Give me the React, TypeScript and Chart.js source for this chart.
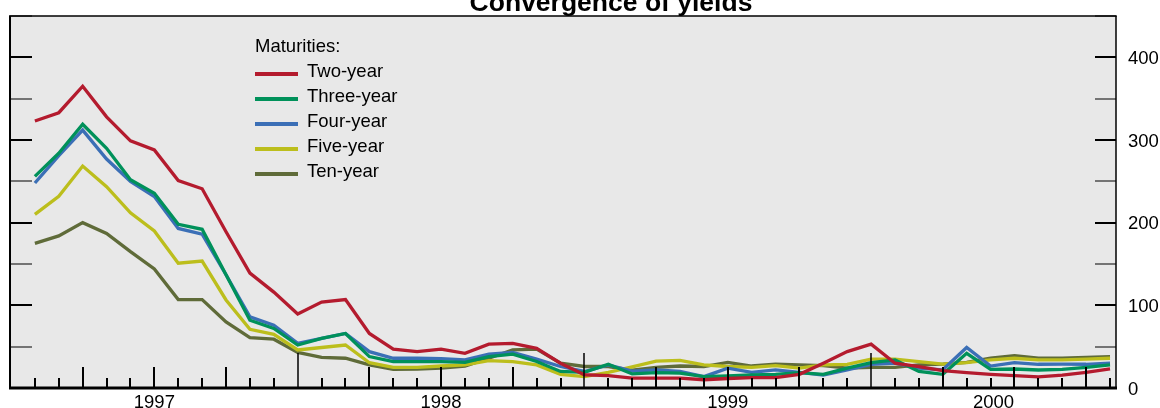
import React, { useEffect, useRef } from "react";
import { Chart, registerables } from "chart.js";

Chart.register(...registerables);

// Month index along the axis: 0 = start of 1997 (left edge), 1..46 = monthly observations
const monthIndex: number[] = [
  1, 2, 3, 4, 5, 6, 7, 8, 9, 10, 11, 12, 13, 14, 15, 16, 17, 18, 19, 20, 21, 22, 23,
  24, 25, 26, 27, 28, 29, 30, 31, 32, 33, 34, 35, 36, 37, 38, 39, 40, 41, 42, 43, 44,
  45, 46,
];

const twoYear: number[] = [
  323, 333, 365, 328, 299, 288, 251, 241, 189, 139, 116, 89.5, 104, 107, 66, 47,
  44, 47, 42, 53, 54, 48, 30, 16, 15, 12, 12, 12, 10, 11.5, 12.5, 12.5, 16.5, 30,
  44, 53, 30, 26, 21, 18.5, 16.5, 15, 13.5, 15.5, 19, 23,
];
const threeYear: number[] = [
  256, 284, 319, 290, 252, 235.5, 198, 192, 137, 82, 72, 52, 60, 66, 38, 32,
  32, 32, 31, 38, 41, 32, 20, 19, 28.7, 17, 18.5, 18, 13.7, 14.5, 15.7, 16.5, 18.5,
  16.5, 24, 30.7, 34, 20, 16.5, 42, 22.5, 23, 21.8, 22.5, 25, 28,
];
const fourYear: number[] = [
  248, 281, 312, 277, 250, 231.5, 193, 186, 137, 86, 76, 54, 60, 66, 44, 36,
  36, 35.5, 34, 41, 43, 35, 26, 20, 28, 20.5, 22, 20, 13.7, 24, 19, 22, 19, 15.7,
  22, 28.7, 30, 24, 22, 49, 26.6, 30.7, 28.7, 29, 28.7, 30,
];
const fiveYear: number[] = [
  210, 232, 268.5, 243.5, 212, 190, 151, 153.6, 106.5, 71, 65, 46, 49, 52, 30.6, 25,
  25, 26.6, 28, 33, 32, 28, 16.5, 13.7, 19, 25.5, 32.5, 33.5, 28, 26, 25, 27, 24,
  28, 28.7, 35, 35, 32, 29, 30.6, 34, 36, 34, 34, 35, 36,
];
const tenYear: number[] = [
  175, 184, 200, 187, 165, 144, 107, 107, 80, 61, 59, 43, 37, 36, 28, 22.6,
  23, 24, 26.6, 36, 46, 47, 30, 26, 26, 21.5, 25, 26.6, 26, 31, 26.6, 28.7, 28, 27,
  24, 25, 25, 28, 29, 31, 36, 39, 36, 36, 37, 38,
];

const seriesNames: string[] = ["Two-year", "Three-year", "Four-year", "Five-year", "Ten-year"];
const seriesColors: string[] = ["#b41b2e", "#00915a", "#3b6fb6", "#bcbe1c", "#5f6b39"];

const yearLabels: string[] = ["1997", "1998", "1999", "2000"];
const yearStarts: number[] = [0, 12, 24, 36];
const yTickValues: number[] = [0, 100, 200, 300, 400];

const X_MIN = 0;
const X_MAX = 46.25;
const Y_MIN = 0;
const Y_MAX = 450;

const FONT = '"Liberation Sans", Arial, Helvetica, sans-serif';

const decoPlugin = {
  id: "deco",
  beforeDatasetsDraw(chart: any) {
    const { ctx, chartArea } = chart;
    const { left, top, right, bottom } = chartArea;
    ctx.save();
    ctx.fillStyle = "#e8e8e8";
    ctx.fillRect(left, top, right - left, bottom - top);
    ctx.restore();
  },
  afterDatasetsDraw(chart: any) {
    const { ctx, chartArea, scales } = chart;
    const { left, top, right, bottom } = chartArea;
    const xs = scales.x;
    const ys = scales.y;
    ctx.save();
    ctx.strokeStyle = "#000";
    ctx.fillStyle = "#000";
    ctx.lineCap = "butt";

    // borders
    ctx.lineWidth = 2;
    ctx.beginPath();
    ctx.moveTo(left - 1, top);
    ctx.lineTo(left - 1, bottom);
    ctx.stroke();
    ctx.lineWidth = 1.5;
    ctx.beginPath();
    ctx.moveTo(left - 2, top);
    ctx.lineTo(right + 0.75, top);
    ctx.stroke();
    ctx.beginPath();
    ctx.moveTo(right, top);
    ctx.lineTo(right, bottom);
    ctx.stroke();
    ctx.lineWidth = 3;
    ctx.beginPath();
    ctx.moveTo(left - 2, bottom);
    ctx.lineTo(right + 1, bottom);
    ctx.stroke();

    // y ticks (both sides, inward)
    for (let v = Y_MIN; v <= Y_MAX; v += 50) {
      const y = Math.round(ys.getPixelForValue(v));
      const major = v % 100 === 0;
      ctx.lineWidth = major ? 2.2 : 1.2;
      ctx.beginPath();
      ctx.moveTo(left - 1, y);
      ctx.lineTo(left + 21, y);
      ctx.moveTo(right, y);
      ctx.lineTo(right - 21, y);
      ctx.stroke();
    }

    // x ticks (monthly / quarterly / yearly), upward from axis
    for (let m = 1; m <= Math.floor(X_MAX); m++) {
      const x = Math.round(xs.getPixelForValue(m));
      let len = 10;
      let lw = 2;
      if (m % 12 === 0) {
        len = 35;
        lw = 1.5;
      } else if (m % 3 === 0) {
        len = 21;
        lw = 2;
      }
      ctx.lineWidth = lw;
      ctx.beginPath();
      ctx.moveTo(x, bottom);
      ctx.lineTo(x, bottom - len);
      ctx.stroke();
    }

    // year labels centred in visible year span
    ctx.font = `18.5px ${FONT}`;
    ctx.textAlign = "center";
    ctx.textBaseline = "alphabetic";
    yearLabels.forEach((lab, i) => {
      const s = Math.max(yearStarts[i], X_MIN);
      const e = Math.min(yearStarts[i] + 12, X_MAX);
      const c = (xs.getPixelForValue(s) + xs.getPixelForValue(e)) / 2;
      ctx.fillText(lab, c, bottom + 20);
    });

    // right y labels
    ctx.textAlign = "left";
    yTickValues.forEach((v) => {
      const y = ys.getPixelForValue(v);
      ctx.fillText(String(v), right + 12, y + 6.6);
    });

    // legend
    ctx.font = `18.5px ${FONT}`;
    ctx.textAlign = "left";
    ctx.fillText("Maturities:", 255, 52);
    seriesNames.forEach((name, i) => {
      const yb = 77 + i * 25;
      ctx.strokeStyle = seriesColors[i];
      ctx.lineWidth = 4;
      ctx.beginPath();
      ctx.moveTo(255, yb - 3);
      ctx.lineTo(298, yb - 3);
      ctx.stroke();
      ctx.fillStyle = "#000";
      ctx.fillText(name, 307, yb);
    });

    // title
    ctx.font = `bold 26.5px ${FONT}`;
    ctx.textAlign = "center";
    ctx.fillStyle = "#000";
    ctx.fillText("Convergence of yields", 611, 11);

    ctx.restore();
  },
};

export default function App() {
  const canvasRef = useRef<HTMLCanvasElement | null>(null);

  useEffect(() => {
    document.body.style.margin = "0";
    const canvas = canvasRef.current;
    if (!canvas) return;
    const allSeries = [twoYear, threeYear, fourYear, fiveYear, tenYear];
    const chart = new Chart(canvas, {
      type: "line",
      data: {
        datasets: allSeries.map((vals, i) => ({
          label: seriesNames[i],
          data: vals.map((v, j) => ({ x: monthIndex[j], y: v })),
          borderColor: seriesColors[i],
          backgroundColor: seriesColors[i],
          borderWidth: 3.3,
          pointRadius: 0,
          tension: 0,
          fill: false,
          borderJoinStyle: "miter" as const,
        })),
      },
      options: {
        responsive: false,
        animation: false,
        devicePixelRatio: 1,
        layout: { padding: { left: 11, right: 44, top: 16, bottom: 20 } },
        scales: {
          x: { type: "linear", min: X_MIN, max: X_MAX, display: false },
          y: { type: "linear", min: Y_MIN, max: Y_MAX, display: false },
        },
        plugins: {
          legend: { display: false },
          title: { display: false },
          tooltip: { enabled: false },
        },
        // draw oldest-first order so two-year is on top
      },
      plugins: [decoPlugin],
    });
    return () => chart.destroy();
  }, []);

  return (
    <div style={{ position: "fixed", left: 0, top: 0, width: 1160, height: 408, background: "#fff" }}>
      <canvas ref={canvasRef} width={1160} height={408} style={{ display: "block" }} />
    </div>
  );
}
